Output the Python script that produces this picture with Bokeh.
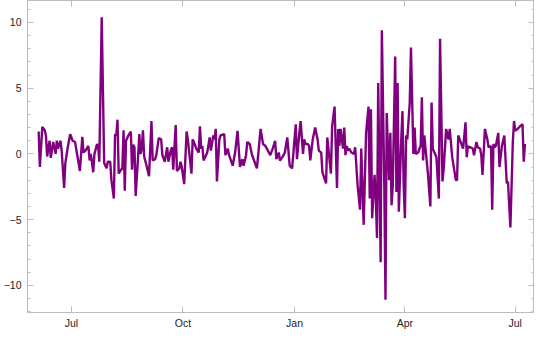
import pandas as pd
from bokeh.plotting import figure
from bokeh.models import (Range1d, LinearAxis, DatetimeAxis, FixedTicker,
                          CustomJSTickFormatter, ColumnDataSource)
from bokeh.embed import file_html
from bokeh.resources import INLINE

# ---------------- data ----------------
base_date = "2019-07-01"
# days since base_date
day_offsets = [
    -27, -26, -24, -22, -21, -20, -18, -17, -16, -15, -13, -12, -11, -9, -8, -6, -5, -3, -1,
    1, 3, 7, 9, 10, 12, 14, 15, 16, 18, 19, 21, 22, 23, 25, 27, 29, 30, 32, 33, 35, 36, 37,
    38, 39, 41, 42, 43, 44, 45, 47, 49, 50, 51, 52, 53, 55, 56, 57, 58, 59, 60, 62, 64, 66,
    67, 69, 70, 72, 74, 75, 77, 79, 80, 82, 83, 84, 86, 87, 89, 90, 91, 93, 95, 96, 99, 100,
    101, 103, 105, 106, 107, 108, 109, 111, 112, 114, 115, 117, 118, 119, 120, 122, 123, 126,
    127, 129, 130, 133, 135, 137, 139, 141, 142, 144, 145, 147, 149, 151, 153, 156, 158, 160,
    162, 164, 166, 168, 169, 171, 172, 174, 176, 178, 180, 181, 182, 185, 186, 188, 189, 191,
    192, 193, 195, 196, 197, 199, 201, 203, 204, 206, 207, 210, 211, 214, 215, 217, 219, 220,
    221, 222, 224, 225, 226, 227, 228, 229, 231, 233, 234, 236, 238, 239, 241, 243, 245, 246,
    247, 248, 250, 251, 252, 253, 255, 256, 258, 259, 260, 262, 263, 264, 265, 267, 268, 269,
    270, 272, 273, 274, 275, 276, 277, 279, 280, 282, 283, 284, 286, 287, 288, 289, 290, 291,
    292, 294, 296, 297, 298, 301, 303, 304, 306, 307, 309, 311, 312, 314, 317, 318, 319, 321,
    323, 325, 326, 327, 328, 329, 331, 332, 334, 335, 337, 338, 339, 341, 343, 344, 346, 347,
    348, 349, 350, 352, 353, 355, 357, 359, 360, 362, 364, 365, 366, 368, 370, 372, 373, 374,
]
values = [
    1.7, -1.0, 2.05, 1.8, 1.4, -0.2, 1.0, -0.3, 0.3, 0.9, 0.0, 1.0, 0.4, 1.0, 0.2, -2.6, -0.7, 0.5, 1.5,
    1.0, 0.9, -1.3, 1.3, 0.1, 0.3, 0.6, -0.5, 0.0, -1.4, 0.0, 0.7, 0.7, -0.6, 10.4, -0.7, -1.1, -0.6, -0.6, -2.0, -3.4, 1.5, 1.4,
    2.6, -1.5, -1.2, -1.1, 1.8, -2.8, 1.0, 1.4, 1.7, -1.2, 0.7, 0.5, -3.2, -0.2, 1.5, 0.0, 0.4, 1.8, -0.2, -0.9, -1.7, 2.5,
    -0.5, -0.4, -0.1, 1.2, 1.1, -0.1, -0.6, 0.5, -0.6, 0.3, 0.5, -1.2, 2.2, -1.3, -1.1, -0.6, -1.0, -2.3, 1.7, 1.1, -1.5, 1.1,
    0.9, 0.4, 0.1, 2.1, 0.4, 0.6, -0.5, -0.1, 0.1, 1.25, 0.25, 1.4, 1.1, 1.9, -2.1, 1.1, 1.4, 1.5,
    -0.1, 0.4, -0.1, -0.9, 0.1, 1.75, -1.0, -0.4, -0.9, -0.1, 0.9, 0.75, -0.1, -0.6, -1.1, 1.9, 0.75, 0.6,
    0.25, -0.1, 0.4, 1.0, -0.4, 0.1, -0.5, -0.25, 0.1, 1.25, -0.9, -1.0, -1.1, 2.25, -0.4, 1.6, 2.5, 0.0,
    1.1, 0.75, 0.75, 0.6, -0.5, 1.1, 2.0, 1.1, 0.25, 0.1, -1.4, -2.25, 1.25, -1.5, 2.1, 3.6, -2.6, 1.9,
    0.6, 1.9, 0.4, 2.0, -0.1, 0.6, 0.25, 0.4, 0.1, 0.0, 0.5, -2.4, -4.25, 0.4, -5.4, 1.6, 3.6, -3.4,
    3.4, -4.9, -1.6, -3.4, -6.4, 5.4, -8.25, 9.4, -2.4, -11.1, 3.1, -2.0, 1.6, -3.9, -2.4, 7.4, -2.9, 5.4,
    -4.4, 1.1, 3.25, -2.4, -4.9, 1.4, 1.1, 3.9, 8.1, 0.0, 2.0, 0.0, 0.1, 0.4, 0.6, 4.3, -0.5, 1.4,
    0.4, -1.5, -4.0, 3.9, 0.4, -0.25, -3.4, 8.75, -2.1, -1.1, 1.9, 1.1, 1.9, -0.25, -2.0, -2.0, 1.4, 0.9,
    0.4, 2.4, -0.25, 0.6, 0.5, 0.5, 0.4, -0.1, 0.9, 0.5, 0.4, -0.1, -1.6, 1.9, 1.1, 0.5, 0.6, -4.25,
    0.75, 0.5, 0.6, 1.6, -1.0, 0.6, 1.4, -2.25, -2.1, -5.6, 0.9, 2.5, 1.75, 1.9, 2.1, 2.25, -0.6, 0.75,
]

x_tick_dates = ["2019-07-01", "2019-10-01", "2020-01-01", "2020-04-01", "2020-07-01"]
x_tick_labels = ["Jul", "Oct", "Jan", "Apr", "Jul"]
y_major_ticks = [-10, -5, 0, 5, 10]
y_minor_ticks = list(range(-12, 12))
x_limits = ("2019-05-25 19:00", "2020-07-16 21:00")
y_limits = (-12.07, 11.67)

# ---------------- build ----------------
def ms(ts):
    return pd.Timestamp(ts).value // 10**6

dates = pd.Timestamp(base_date) + pd.to_timedelta(day_offsets, unit="D")
source = ColumnDataSource(dict(x=dates, y=values))

FRAME = "#bdbdbd"
LABEL = "#222222"
FONT = "Liberation Sans"

p = figure(width=534, height=331, x_axis_type="datetime",
           x_range=Range1d(ms(x_limits[0]), ms(x_limits[1])),
           y_range=Range1d(*y_limits),
           output_backend="svg", toolbar_location=None,
           min_border_left=0, min_border_right=0, min_border_top=0, min_border_bottom=0)
p.grid.visible = False
p.background_fill_color = "white"
p.border_fill_color = "white"
p.outline_line_color = FRAME

p.line("x", "y", source=source, line_color="#800080", line_width=2.4)

xt_ms = [ms(d) for d in x_tick_dates]
x_ticker = FixedTicker(ticks=xt_ms, minor_ticks=[])
x_fmt = CustomJSTickFormatter(args=dict(t=xt_ms, lab=x_tick_labels), code="""
    const i = t.indexOf(tick);
    return i >= 0 ? lab[i] : "";
""")
y_ticker = FixedTicker(ticks=y_major_ticks, minor_ticks=y_minor_ticks)
y_fmt = CustomJSTickFormatter(code="""
    return tick < 0 ? "\\u2212" + Math.abs(tick) : String(tick);
""")
blank = CustomJSTickFormatter(code="return '';")


def style(ax, labels=True):
    ax.axis_line_color = FRAME
    ax.major_tick_line_color = FRAME
    ax.minor_tick_line_color = FRAME
    ax.major_tick_in = 6
    ax.major_tick_out = 0
    ax.minor_tick_in = 3
    ax.minor_tick_out = 0
    ax.major_label_text_font = FONT
    ax.major_label_text_font_size = "10.5px"
    ax.major_label_text_color = LABEL
    ax.major_label_standoff = 6 if labels else 0


xb = p.xaxis[0]
xb.ticker = x_ticker
xb.formatter = x_fmt
style(xb)
xb.major_label_standoff = 4

yl = p.yaxis[0]
yl.ticker = y_ticker
yl.formatter = y_fmt
style(yl)

xtop = DatetimeAxis(ticker=x_ticker, formatter=blank)
style(xtop, labels=False)
xtop.major_label_text_font_size = "0px"
p.add_layout(xtop, "above")

yr = LinearAxis(ticker=y_ticker, formatter=blank)
style(yr, labels=False)
yr.major_label_text_font_size = "0px"
p.add_layout(yr, "right")

open("out.html", "w").write(file_html(p, INLINE))
